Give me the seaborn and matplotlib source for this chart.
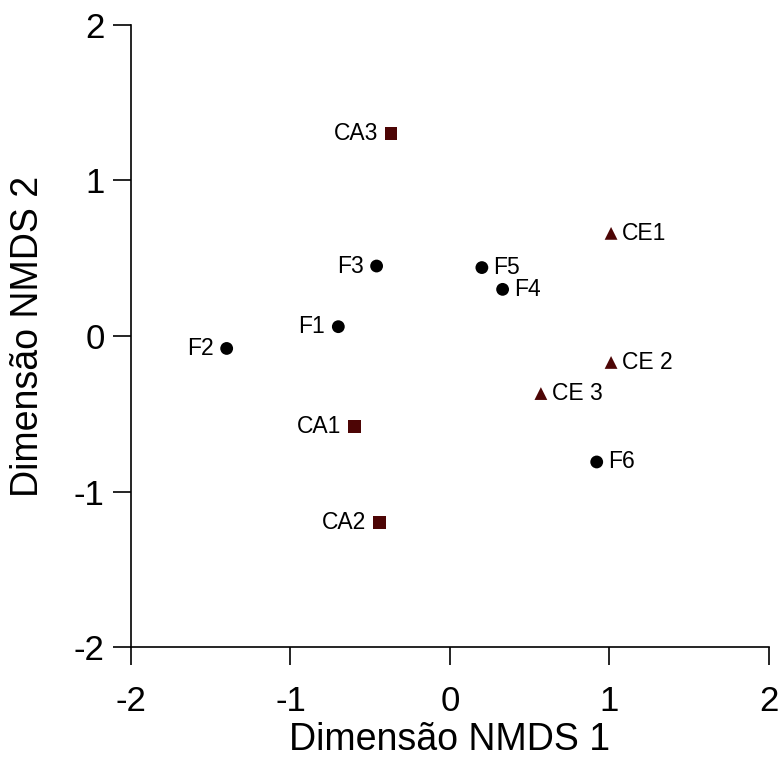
import pandas as pd
import matplotlib
matplotlib.use('Agg')
import matplotlib.pyplot as plt
import seaborn as sns

# NMDS scores
labels = ['F1', 'F2', 'F3', 'F4', 'F5', 'F6', 'CA1', 'CA2', 'CA3', 'CE1', 'CE 2', 'CE 3']
nmds1 = [-0.70, -1.40, -0.46, 0.33, 0.20, 0.92, -0.60, -0.44, -0.37, 1.01, 1.01, 0.57]
nmds2 = [0.06, -0.08, 0.45, 0.30, 0.44, -0.81, -0.58, -1.20, 1.30, 0.66, -0.17, -0.37]
groups = ['F'] * 6 + ['CA'] * 3 + ['CE'] * 3
label_side = ['left', 'left', 'left', 'right', 'right', 'right',
              'left', 'left', 'left', 'right', 'right', 'right']

df = pd.DataFrame({'label': labels, 'x': nmds1, 'y': nmds2, 'group': groups, 'side': label_side})

sns.set_style('ticks')
plt.rcParams['font.family'] = ['Liberation Sans', 'DejaVu Sans']
plt.rcParams['axes.unicode_minus'] = False
plt.rcParams['text.color'] = 'black'
plt.rcParams['xtick.color'] = 'black'
plt.rcParams['ytick.color'] = 'black'
plt.rcParams['axes.labelcolor'] = 'black'

fig = plt.figure(figsize=(7.81, 7.64), dpi=100)
ax = fig.add_axes([0.1677, 0.1531, 0.8169, 0.8142])

pal = {'F': 'black', 'CA': '#4d0505', 'CE': '#4d0505'}
mk = {'F': 'o', 'CA': 's', 'CE': '^'}
sns.scatterplot(ax=ax, data=df, x='x', y='y', hue='group', style='group',
                palette=pal, markers=mk, s=85, edgecolor='none', legend=False,
                clip_on=False)

for _, r in df.iterrows():
    if r['side'] == 'left':
        ax.annotate(r['label'], (r['x'], r['y']), xytext=(-9.5, 0), textcoords='offset points',
                    ha='right', va='center', fontsize=16.5)
    else:
        ax.annotate(r['label'], (r['x'], r['y']), xytext=(8, 0), textcoords='offset points',
                    ha='left', va='center', fontsize=16.5)

ax.set_xlim(-2, 2)
ax.set_ylim(-2, 2)
ax.set_xticks([-2, -1, 0, 1, 2])
ax.set_yticks([-2, -1, 0, 1, 2])
ax.tick_params(axis='both', direction='out', length=13, width=1.2, labelsize=25, color='black')
ax.tick_params(axis='y', pad=6)
ax.tick_params(axis='x', pad=14)
for s in ['left', 'bottom']:
    ax.spines[s].set_linewidth(1.2)
    ax.spines[s].set_color('black')
sns.despine(ax=ax)
ax.set_xlabel('Dimensão NMDS 1', fontsize=27, labelpad=3.5)
ax.set_ylabel('Dimensão NMDS 2', fontsize=27, labelpad=20)

fig.savefig('out.png', dpi=100)
